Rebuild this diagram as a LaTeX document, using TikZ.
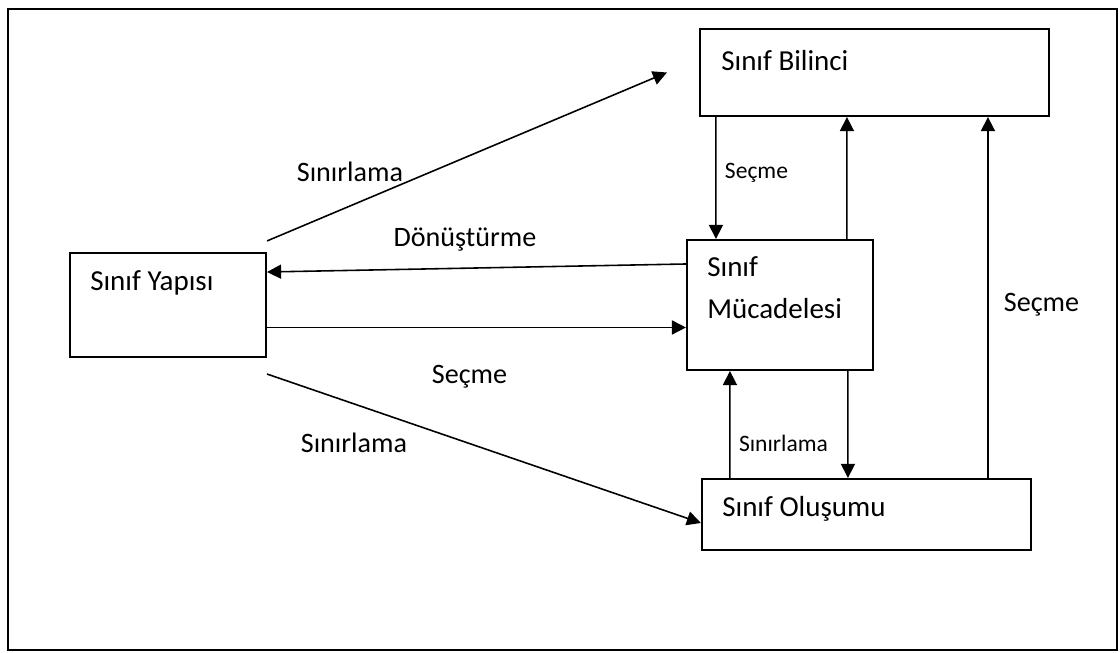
\documentclass[tikz,border=0pt]{standalone}
\usepackage{fontspec}
\setmainfont{Carlito}
\usetikzlibrary{arrows.meta}

\begin{document}
\begin{tikzpicture}[
    kutu/.style = {draw, line width=1.2pt, inner sep=0pt},
    ic/.style = {anchor=west, inner sep=0pt, align=left, font=\fontsize{16.5}{24}\selectfont},
    etiket/.style = {inner sep=0pt, font=\fontsize{16}{19}\selectfont},
    kucuk/.style = {inner sep=0pt, font=\fontsize{13.4}{16}\selectfont},
    ok/.style = {line width=0.9pt, -{Triangle[length=8pt, width=8pt]}}
]
    \useasboundingbox (0,0) rectangle (22.4,13.06);
    \draw[line width=1.1pt] (0.16,0.06) rectangle (22.34,12.88);

    \node[kutu, minimum width=3.92cm, minimum height=2.08cm,
          label={[ic, xshift=0.42cm, yshift=-0.62cm]north west:Sınıf Yapısı}] (yapi) at (3.36,6.96) {};
    \node[kutu, minimum width=6.98cm, minimum height=1.74cm,
          label={[ic, xshift=0.44cm, yshift=-0.66cm]north west:Sınıf Bilinci}] (bilinci) at (17.49,11.61) {};
    \node[kutu, minimum width=3.72cm, minimum height=2.60cm,
          label={[ic, xshift=0.42cm, yshift=-0.98cm]north west:Sınıf\\Mücadelesi}] (muc) at (15.60,6.96) {};
    \node[kutu, minimum width=6.58cm, minimum height=1.42cm,
          label={[ic, xshift=0.42cm, yshift=-0.62cm]north west:Sınıf Oluşumu}] (olusum) at (17.33,2.77) {};

    \node[etiket] (sin1) at (7.00,9.62) {Sınırlama};
    \node[etiket] (donus) at (9.30,8.26) {Dönüştürme};
    \node[etiket] (sec1) at (9.39,5.52) {Seçme};
    \node[etiket] (sin2) at (7.08,4.20) {Sınırlama};
    \node[kucuk] (sec2) at (15.13,9.60) {Seçme};
    \node[kucuk] (sin3) at (15.67,4.20) {Sınırlama};
    \node[etiket] (sec3) at (20.83,6.96) {Seçme};

    \draw[ok] ([yshift=0.22cm]yapi.north east) -- ([xshift=-0.64cm]bilinci.west);
    \draw[ok] ([yshift=0.82cm]muc.west) -- ([yshift=0.66cm]yapi.east);
    \draw[ok] ([yshift=-0.45cm]yapi.east) -- ([yshift=-0.45cm]muc.west);
    \draw[ok] ([yshift=-0.32cm]yapi.south east) -- ([yshift=-0.17cm]olusum.west);
    \draw[ok] ([xshift=0.34cm]bilinci.south west) -- ([xshift=0.60cm]muc.north west);
    \draw[ok] ([xshift=3.22cm]muc.north west) -- ([xshift=2.96cm]bilinci.south west);
    \draw[ok] ([xshift=0.58cm]olusum.north west) -- ([xshift=0.88cm]muc.south west);
    \draw[ok] ([xshift=3.24cm]muc.south west) -- ([xshift=2.94cm]olusum.north west);
    \draw[ok] ([xshift=5.74cm]olusum.north west) -- ([xshift=5.78cm]bilinci.south west);
\end{tikzpicture}
\end{document}
